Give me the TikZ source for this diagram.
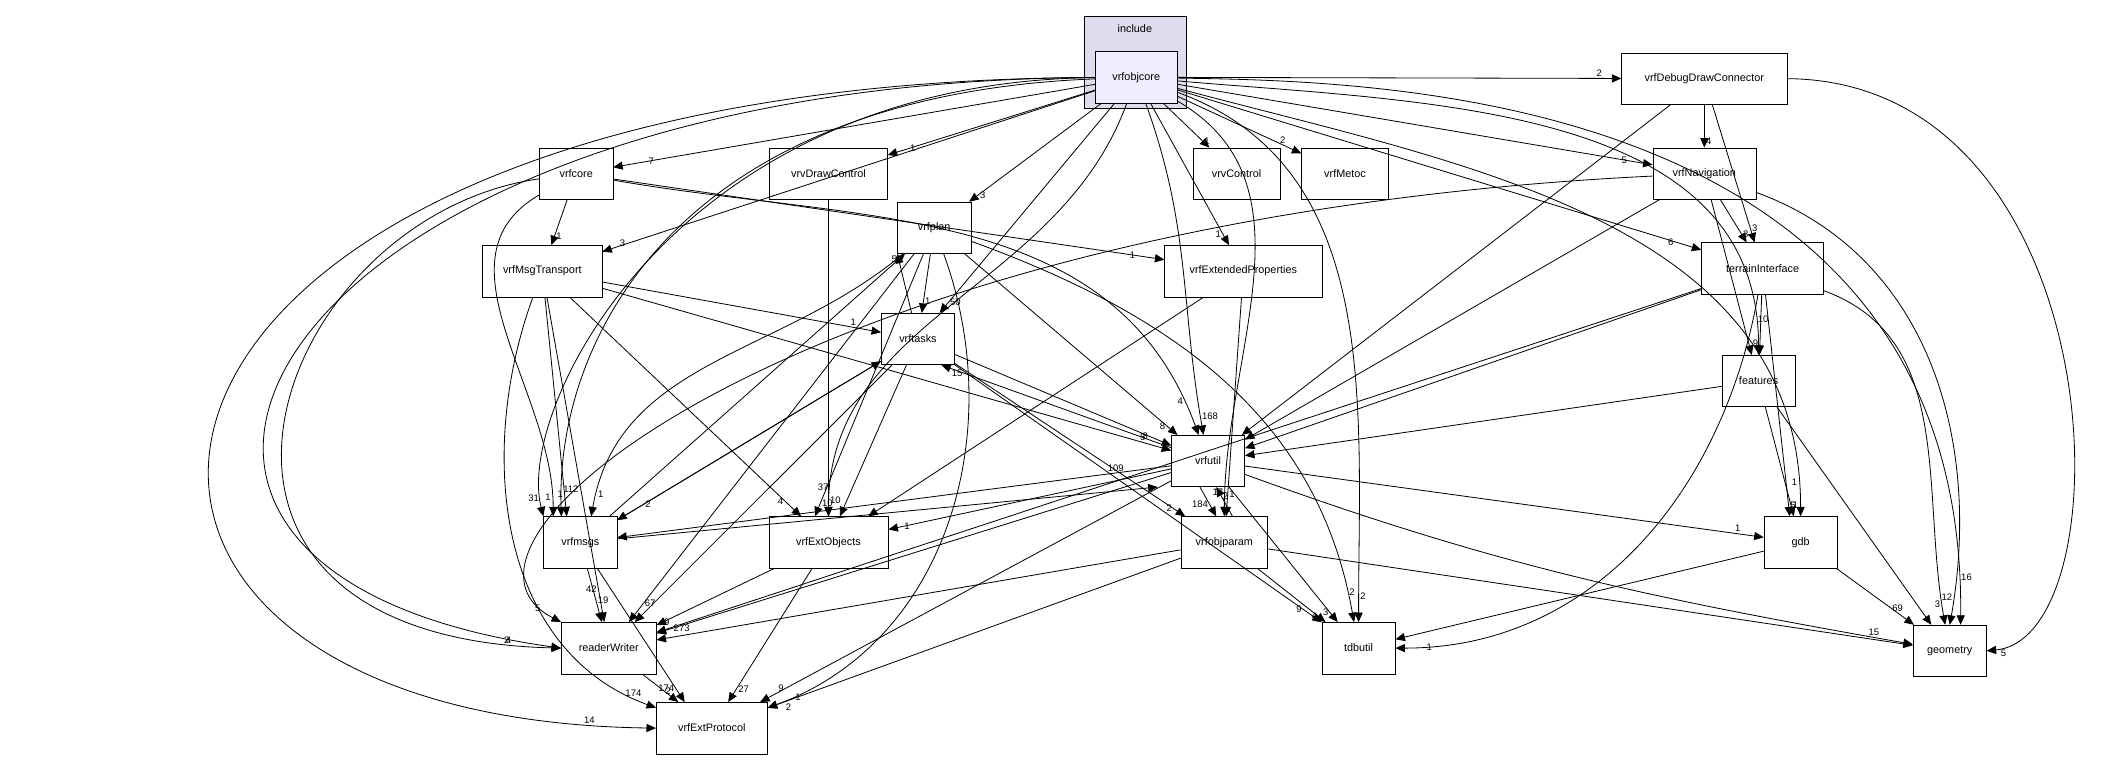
\documentclass[tikz,border=0pt]{standalone}
\usepackage{fontspec}
\setmainfont{Liberation Sans}
\usetikzlibrary{arrows.meta}

\begin{document}
\begin{tikzpicture}[x=1pt, y=-1pt,
		dir/.style={draw, fill=white, minimum width=#1, minimum height=38pt, inner sep=2pt, font=\fontsize{8}{9}\selectfont},
		dir/.default=54pt,
		dep/.style={-{Triangle[length=7pt, width=6pt]}, line width=0.6pt},
		lbl/.style={font=\fontsize{7}{8}\selectfont, inner sep=1pt, fill=none}]
		%frame of the picture
		\useasboundingbox (0,0) rectangle (1568,573);
		
		%cluster include
		\draw [fill={rgb,255:red,221;green,221;blue,238}] (800,12) rectangle (875,80);
		\node [font=\fontsize{8}{9}\selectfont] at (837,21) {include};
		
		%nodes
		\node [dir=60pt, fill={rgb,255:red,238;green,238;blue,255}] (objcore) at (838,57) {vrfobjcore};
		\node [dir=122pt] (debug) at (1257,58) {vrfDebugDrawConnector};
		\node [dir] (core) at (425,128) {vrfcore};
		\node [dir=87pt] (drawctl) at (611,128) {vrvDrawControl};
		\node [dir=64pt] (vrvctl) at (912,128) {vrvControl};
		\node [dir=64pt] (metoc) at (992,128) {vrfMetoc};
		\node [dir=76pt] (nav) at (1257,128) {vrfNavigation};
		\node [dir=88pt] (msgtr) at (400,200) {vrfMsgTransport};
		\node [dir] (plan) at (689,168) {vrfplan};
		\node [dir=116pt] (extprop) at (917,200) {vrfExtendedProperties};
		\node [dir=90pt] (terrain) at (1300,198) {terrainInterface};
		\node [dir] (tasks) at (677,250) {vrftasks};
		\node [dir] (features) at (1297,281) {features};
		\node [dir] (util) at (891,340) {vrfutil};
		\node [dir] (msgs) at (428,400) {vrfmsgs};
		\node [dir=88pt] (extobj) at (611,400) {vrfExtObjects};
		\node [dir=64pt] (objparam) at (903,400) {vrfobjparam};
		\node [dir] (gdb) at (1328,400) {gdb};
		\node [dir=70pt] (rw) at (449,478) {readerWriter};
		\node [dir] (tdb) at (1002,478) {tdbutil};
		\node [dir] (geom) at (1438,480) {geometry};
		\node [dir=82pt] (extproto) at (525,537) {vrfExtProtocol};
		
		%dependencies of vrfobjcore
		\draw [dep] (objcore) -- (debug) node [lbl, pos=0.95, above] {2};
		\draw [dep] (objcore) -- (core) node [lbl, pos=0.93, right] {7};
		\draw [dep] (objcore) -- (drawctl) node [lbl, pos=0.9, right] {1};
		\draw [dep] (objcore) -- (vrvctl) node [lbl, pos=0.85, right] {1};
		\draw [dep] (objcore) -- (metoc) node [lbl, pos=0.85, above] {2};
		\draw [dep] (objcore) -- (nav) node [lbl, pos=0.95, left] {5};
		\draw [dep] (objcore) -- (msgtr) node [lbl, pos=0.95, left] {3};
		\draw [dep] (objcore) -- (plan) node [lbl, pos=0.93, right] {3};
		\draw [dep] (objcore) -- (extprop) node [lbl, pos=0.92, left] {1};
		\draw [dep] (objcore) -- (terrain) node [lbl, pos=0.95, left] {6};
		\draw [dep] (objcore) -- (tasks) node [lbl, pos=0.95, right] {50};
		\draw [dep] (objcore) to [out=-5, in=90] node [lbl, pos=0.95, right] {10} (features);
		\draw [dep] (objcore) to [out=-70, in=100] node [lbl, pos=0.95, right] {168} (util);
		\draw [dep] (objcore) .. controls (500,60) and (380,300) .. node [lbl, pos=0.95, left] {31} (msgs.north west);
		\draw [dep] (objcore) .. controls (500,70) and (410,250) .. node [lbl, pos=0.95, right] {112} ([xshift=-14pt]msgs.north);
		\draw [dep] (objcore) to [out=-110, in=90] node [lbl, pos=0.95, left] {37} (extobj);
		\draw [dep] (objcore) to [out=-30, in=90] node [lbl, pos=0.95, left] {17} (objparam);
		\draw [dep] (objcore) to [out=-15, in=90] node [lbl, pos=0.96, left] {1} (gdb);
		\draw [dep] (objcore) .. controls (200,60) and (0,420) .. node [lbl, pos=0.97, left] {4} (rw.west);
		\draw [dep] (objcore) to [out=-20, in=90] node [lbl, pos=0.96, right] {2} (tdb);
		\draw [dep] (objcore) .. controls (1000,60) and (1450,60) .. node [lbl, pos=0.97, right] {16} ([xshift=8pt]geom.north);
		\draw [dep] (objcore) .. controls (30,60) and (-20,530) .. node [lbl, pos=0.97, above left] {14} (extproto.west);
		
		%vrfDebugDrawConnector
		\draw [dep] (debug) -- (nav) node [lbl, pos=0.85, right] {4};
		\draw [dep] (debug) -- (terrain) node [lbl, pos=0.9, right] {3};
		\draw [dep] (debug) -- (util);
		\draw [dep] (debug.east) .. controls (1560,60) and (1570,470) .. node [lbl, pos=0.97, below right] {5} (geom.east);
		
		%vrfcore
		\draw [dep] (core) -- (msgtr) node [lbl, pos=0.8, right] {1};
		\draw [dep] (core) to [out=-150, in=90] node [lbl, pos=0.95, left] {1} ([xshift=-20pt]msgs.north);
		\draw [dep] (core) .. controls (200,160) and (90,470) .. node [lbl, pos=0.96, above left] {2} (rw.west);
		\draw [dep] (core) -- (extprop) node [lbl, pos=0.95, left] {1};
		\draw [dep] (core) to [out=-10, in=110] node [lbl, pos=0.95, left] {4} (util);
		
		%vrvDrawControl
		\draw [dep] (drawctl) -- (extobj) node [lbl, pos=0.95, right] {10};
		
		%vrfNavigation
		\draw [dep] (nav) -- (terrain) node [lbl, pos=0.8, right] {3};
		\draw [dep] (nav) -- (util);
		\draw [dep] (nav) -- (features);
		\draw [dep] (nav) to [out=-20, in=80] node [lbl, pos=0.95, left] {12} (geom.north);
		\draw [dep] (nav) .. controls (600,160) and (300,400) .. node [lbl, pos=0.95, left] {5} (rw.north west);
		
		%vrfMsgTransport
		\draw [dep] (msgtr) -- (tasks) node [lbl, pos=0.9, above] {1};
		\draw [dep] (msgtr) -- (util) node [lbl, pos=0.95, above] {5};
		\draw [dep] (msgtr) -- (extobj) node [lbl, pos=0.93, left] {4};
		\draw [dep] (msgtr) -- ([xshift=-10pt]msgs.north) node [lbl, pos=0.9, left] {1};
		\draw [dep] (msgtr) -- (rw) node [lbl, pos=0.9, left] {42};
		\draw [dep] (msgtr) to [out=-110, in=160] node [lbl, pos=0.95, above] {174} (extproto);
		
		%vrfplan
		\draw [dep] (plan) -- (tasks) node [lbl, pos=0.8, right] {1};
		\draw [dep] (plan) -- (util) node [lbl, pos=0.95, left] {8};
		\draw [dep] (plan) to [out=-140, in=80] node [lbl, pos=0.95, right] {1} ([xshift=8pt]msgs.north);
		\draw [dep] (plan) -- ([xshift=-10pt]extobj.north) node [lbl, pos=0.95, right] {10};
		\draw [dep] (plan) -- (rw) node [lbl, pos=0.95, right] {67};
		\draw [dep] (plan) to [out=-70, in=20] node [lbl, pos=0.95, right] {1} (extproto);
		\draw [dep] (plan) to [out=-20, in=100] node [lbl, pos=0.95, right] {2} (tdb);
		
		%vrfExtendedProperties
		\draw [dep] (extprop) -- (extobj);
		\draw [dep] (extprop) -- (objparam) node [lbl, pos=0.9, right] {1};
		
		%terrainInterface
		\draw [dep] (terrain) -- (features) node [lbl, pos=0.8, left] {9};
		\draw [dep] (terrain) -- (util);
		\draw [dep] (terrain) -- ([xshift=-8pt]gdb.north) node [lbl, pos=0.95, right] {5};
		\draw [dep] (terrain) to [out=-20, in=100] node [lbl, pos=0.95, left] {3} (geom);
		\draw [dep] (terrain) to [out=-100, in=0] node [lbl, pos=0.95, right] {1} (tdb);
		\draw [dep] (terrain) -- (rw);
		
		%vrftasks
		\draw [dep] (tasks) -- (util) node [lbl, pos=0.9, left] {8};
		\draw [dep] (tasks) -- (msgs) node [lbl, pos=0.9, right] {2};
		\draw [dep] (tasks) -- (plan.south west) node [lbl, pos=0.9, left] {5};
		\draw [dep] (tasks) -- (extobj);
		\draw [dep] (tasks) -- (rw);
		\draw [dep] (tasks) -- (objparam) node [lbl, pos=0.95, left] {2};
		\draw [dep] (tasks) -- (tdb) node [lbl, pos=0.95, left] {9};
		
		%features
		\draw [dep] (features) -- (util);
		\draw [dep] (features) -- (gdb) node [lbl, pos=0.9, right] {1};
		\draw [dep] (features) -- (geom);
		
		%vrfutil
		\draw [dep] (util) -- (msgs) node [lbl, pos=0.1, above] {109};
		\draw [dep] (util) -- (extobj) node [lbl, pos=0.95, right] {1};
		\draw [dep] ([xshift=-6pt]util.south) -- ([xshift=-6pt]objparam.north) node [lbl, pos=0.6, left] {184};
		\draw [dep] (util) -- (rw) node [lbl, pos=0.97, right] {273};
		\draw [dep] (util) -- (extproto) node [lbl, pos=0.96, above right] {9};
		\draw [dep] (util) -- (gdb) node [lbl, pos=0.95, above] {1};
		\draw [dep] (util) -- (tdb) node [lbl, pos=0.93, left] {3};
		\draw [dep] (util) to [out=-20, in=170] node [lbl, pos=0.95, above] {15} (geom);
		\draw [dep] (util) -- ([xshift=-10pt]tasks.south east) node [lbl, pos=0.9, left] {15};
		
		%vrfmsgs
		\draw [dep] (msgs) -- ([xshift=-10pt]util.south west);
		\draw [dep] (msgs) -- (rw) node [lbl, pos=0.6, right] {19};
		\draw [dep] (msgs) -- ([xshift=-20pt]extproto.north) node [lbl, pos=0.9, left] {174};
		\draw [dep] (msgs) -- (plan);
		\draw [dep] (msgs) -- (tasks);
		
		%vrfExtObjects
		\draw [dep] (extobj) -- (rw) node [lbl, pos=0.95, right] {9};
		\draw [dep] (extobj) -- (extproto) node [lbl, pos=0.9, right] {27};
		
		%vrfobjparam
		\draw [dep] ([xshift=6pt]objparam.north) -- ([xshift=6pt]util.south) node [lbl, pos=0.7, right] {2};
		\draw [dep] (objparam) -- (rw);
		\draw [dep] (objparam) -- (tdb) node [lbl, pos=0.9, left] {4};
		\draw [dep] (objparam) -- (geom);
		\draw [dep] (objparam) -- (extproto) node [lbl, pos=0.96, below right] {2};
		
		%gdb and readerWriter
		\draw [dep] (gdb) -- (geom) node [lbl, pos=0.7, right] {69};
		\draw [dep] (gdb) -- (tdb);
		\draw [dep] (rw) -- (extproto) node [lbl, pos=0.6, right] {2};
\end{tikzpicture}
\end{document}
